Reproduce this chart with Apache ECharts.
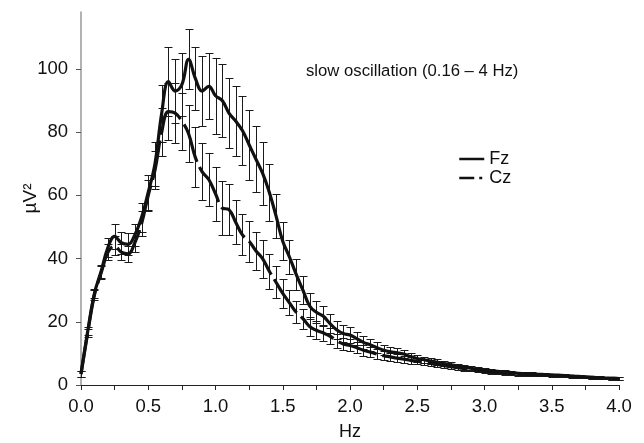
<!DOCTYPE html>
<html>
<head>
<meta charset="utf-8">
<script src="https://cdn.jsdelivr.net/npm/echarts@6/dist/echarts.min.js"></script>
<style>
html,body{margin:0;padding:0;background:#fff;}
#chart{width:644px;height:443px;}
</style>
</head>
<body>
<div id="chart"></div>
<script>
// Frequencies (Hz)
const freqs = [0.00,0.05,0.10,0.15,0.20,0.25,0.30,0.35,0.40,0.45,0.50,0.55,0.60,0.65,0.70,0.75,0.80,0.85,0.90,0.95,
1.00,1.05,1.10,1.15,1.20,1.25,1.30,1.35,1.40,1.45,1.50,1.55,1.60,1.65,1.70,1.75,1.80,1.85,1.90,1.95,
2.00,2.05,2.10,2.15,2.20,2.25,2.30,2.35,2.40,2.45,2.50,2.55,2.60,2.65,2.70,2.75,2.80,2.85,2.90,2.95,
3.00,3.05,3.10,3.15,3.20,3.25,3.30,3.35,3.40,3.45,3.50,3.55,3.60,3.65,3.70,3.75,3.80,3.85,3.90,3.95,4.00];

// Fz power (µV²)
const fz = [3.5,17,29,36,43.5,47,45,44.5,47.5,53,61,70,86,96,93,95,103,97,93,94.5,
91.5,90,86,83.5,80.5,76,71.5,67,61,53.5,45.5,40.5,35,30,25,23,21.8,19.5,17.5,16.3,
15.8,14.7,13.5,12.7,11.8,11,10.5,10.2,9.8,9.0,8.4,8.0,7.6,7.2,6.8,6.4,6.0,5.6,5.3,5.0,
4.7,4.5,4.3,4.1,3.9,3.7,3.6,3.5,3.4,3.3,3.2,3.1,3.0,2.8,2.7,2.6,2.4,2.3,2.2,2.1,2.0];
const fzErr = [1.0,1.2,1.5,2.0,3.0,4.0,3.5,3.5,3.5,4.5,5.5,7,9,11,10,10,9.5,10,11,10.5,
12,11.5,11,11,11,11,10.5,10,9,7,6,5.5,5,4.5,4,3.5,3.2,3,2.8,2.6,
2.4,2.2,2.0,1.9,1.8,1.6,1.5,1.4,1.3,1.2,1.1,1.0,0.9,0.9,0.8,0.8,0.7,0.7,0.7,0.6,
0.6,0.6,0.6,0.5,0.5,0.5,0.5,0.5,0.5,0.5,0.4,0.4,0.4,0.4,0.4,0.4,0.4,0.4,0.4,0.4,0.4];

// Cz power (µV²)
const cz = [3.5,16.5,28.5,35.5,42,44,42,41.5,45,51,60,68,80,86.5,86,83.5,79.5,72,67.5,65,
60.5,56,55.5,51.5,47.5,45.5,42.5,40,36,32.5,29,26,23,21,18.5,17.3,16.5,15.5,14,13,
12.5,11.8,11,10.4,9.8,9.3,8.9,8.5,8.2,7.8,7.5,7.1,6.8,6.5,6.1,5.8,5.5,5.2,4.9,4.7,
4.4,4.2,4.0,3.8,3.7,3.5,3.4,3.3,3.2,3.1,3.0,2.9,2.8,2.7,2.6,2.5,2.4,2.3,2.2,2.1,2.0];
const czErr = [1,1.2,1.5,2,2.5,3,2.5,2.5,3,4,5,6,7.5,9,9.5,9,9,9.5,9,8.5,
8.5,8.5,8,7,6.5,6.5,6,6,5.5,5,4.5,4,3.5,3.2,3,2.8,2.6,2.4,2.2,2.0,
1.9,1.8,1.7,1.6,1.5,1.4,1.3,1.2,1.1,1.0,1.0,0.9,0.9,0.8,0.8,0.7,0.7,0.7,0.6,0.6,
0.6,0.6,0.5,0.5,0.5,0.5,0.5,0.5,0.5,0.4,0.4,0.4,0.4,0.4,0.4,0.4,0.4,0.4,0.4,0.4,0.4];

// Axis ticks / labels
const xTickValues = [0,0.25,0.5,0.75,1,1.25,1.5,1.75,2,2.25,2.5,2.75,3,3.25,3.5,3.75,4];
const xLabelValues = [0,0.5,1,1.5,2,2.5,3,3.5,4];
const yTickValues = [0,20,40,60,80,100];
const seriesNames = ['Fz','Cz'];
const titleText = 'slow oscillation (0.16 \u2013 4 Hz)';

const FONT = 'Liberation Sans, Arial, sans-serif';

function errData(vals, errs){
  return freqs.map((f,i)=>[f, vals[i]-errs[i], vals[i]+errs[i]]);
}
function errRender(params, api){
  const x = api.value(0);
  const lo = api.coord([x, api.value(1)]);
  const hi = api.coord([x, api.value(2)]);
  const cx = Math.round(lo[0]) + 0.5;
  const yl = Math.round(lo[1]) + 0.5;
  const yh = Math.round(hi[1]) + 0.5;
  const w = 4;
  const st = {stroke:'#1a1a1a', lineWidth:1};
  return {type:'group', children:[
    {type:'line', shape:{x1:cx,y1:yl,x2:cx,y2:yh}, style:st},
    {type:'line', shape:{x1:cx-w,y1:yl,x2:cx+w,y2:yl}, style:st},
    {type:'line', shape:{x1:cx-w,y1:yh,x2:cx+w,y2:yh}, style:st}
  ]};
}

const chart = echarts.init(document.getElementById('chart'), null, {renderer:'canvas'});
chart.setOption({
  animation:false,
  backgroundColor:'#fff',
  textStyle:{fontFamily:FONT},
  title:{text:titleText, left:301, top:58, textStyle:{fontFamily:FONT, fontSize:16.7, fontWeight:'normal', color:'#111'}},
  legend:{
    orient:'vertical', left:453, top:145, itemWidth:25, itemHeight:12, itemGap:1,
    itemStyle:{opacity:0},
    textStyle:{fontFamily:FONT, fontSize:18, color:'#111'},
    data:[
      {name:seriesNames[0], lineStyle:{width:2.5}},
      {name:seriesNames[1], lineStyle:{width:2.5, type:[15,5,3,2]}}
    ]
  },
  grid:{left:81, right:25, top:12, bottom:58, outerBoundsMode:'none', containLabel:false},
  xAxis:{
    type:'value', min:0, max:4,
    name:'Hz', nameLocation:'middle', nameGap:38, nameMoveOverlap:false,
    nameTextStyle:{fontFamily:FONT, fontSize:18, color:'#111'},
    axisLine:{show:true, lineStyle:{color:'#222', width:1}},
    axisTick:{show:true, inside:false, length:5, customValues:xTickValues, lineStyle:{color:'#222'}},
    axisLabel:{customValues:xLabelValues, formatter:v=>v.toFixed(1), fontFamily:FONT, fontSize:18.5, color:'#111', margin:12},
    splitLine:{show:false}
  },
  yAxis:{
    type:'value', min:0, max:118,
    name:'\u00b5V\u00b2', nameLocation:'middle', nameRotate:90, nameGap:41, nameMoveOverlap:false,
    nameTextStyle:{fontFamily:FONT, fontSize:19, color:'#111'},
    axisLine:{show:true, lineStyle:{color:'#999', width:1.5}},
    axisTick:{show:true, inside:false, length:5, customValues:yTickValues, lineStyle:{color:'#555'}},
    axisLabel:{customValues:yTickValues, fontFamily:FONT, fontSize:18.5, color:'#111', margin:13},
    splitLine:{show:false}
  },
  series:[
    {type:'custom', name:'FzErr', renderItem:errRender, data:errData(fz,fzErr), encode:{x:0,y:[1,2]}, z:1, silent:true},
    {type:'custom', name:'CzErr', renderItem:errRender, data:errData(cz,czErr), encode:{x:0,y:[1,2]}, z:1, silent:true},
    {type:'line', name:seriesNames[0], data:freqs.map((f,i)=>[f,fz[i]]), smooth:0.4, symbol:'none', showSymbol:false,
      lineStyle:{color:'#111', width:3.2}, itemStyle:{color:'#111'}, z:3},
    {type:'line', name:seriesNames[1], data:freqs.map((f,i)=>[f,cz[i]]), smooth:0.4, symbol:'none', showSymbol:false,
      lineStyle:{color:'#111', width:3.2, type:[40,6]}, itemStyle:{color:'#111'}, z:3}
  ]
});
</script>
</body>
</html>
